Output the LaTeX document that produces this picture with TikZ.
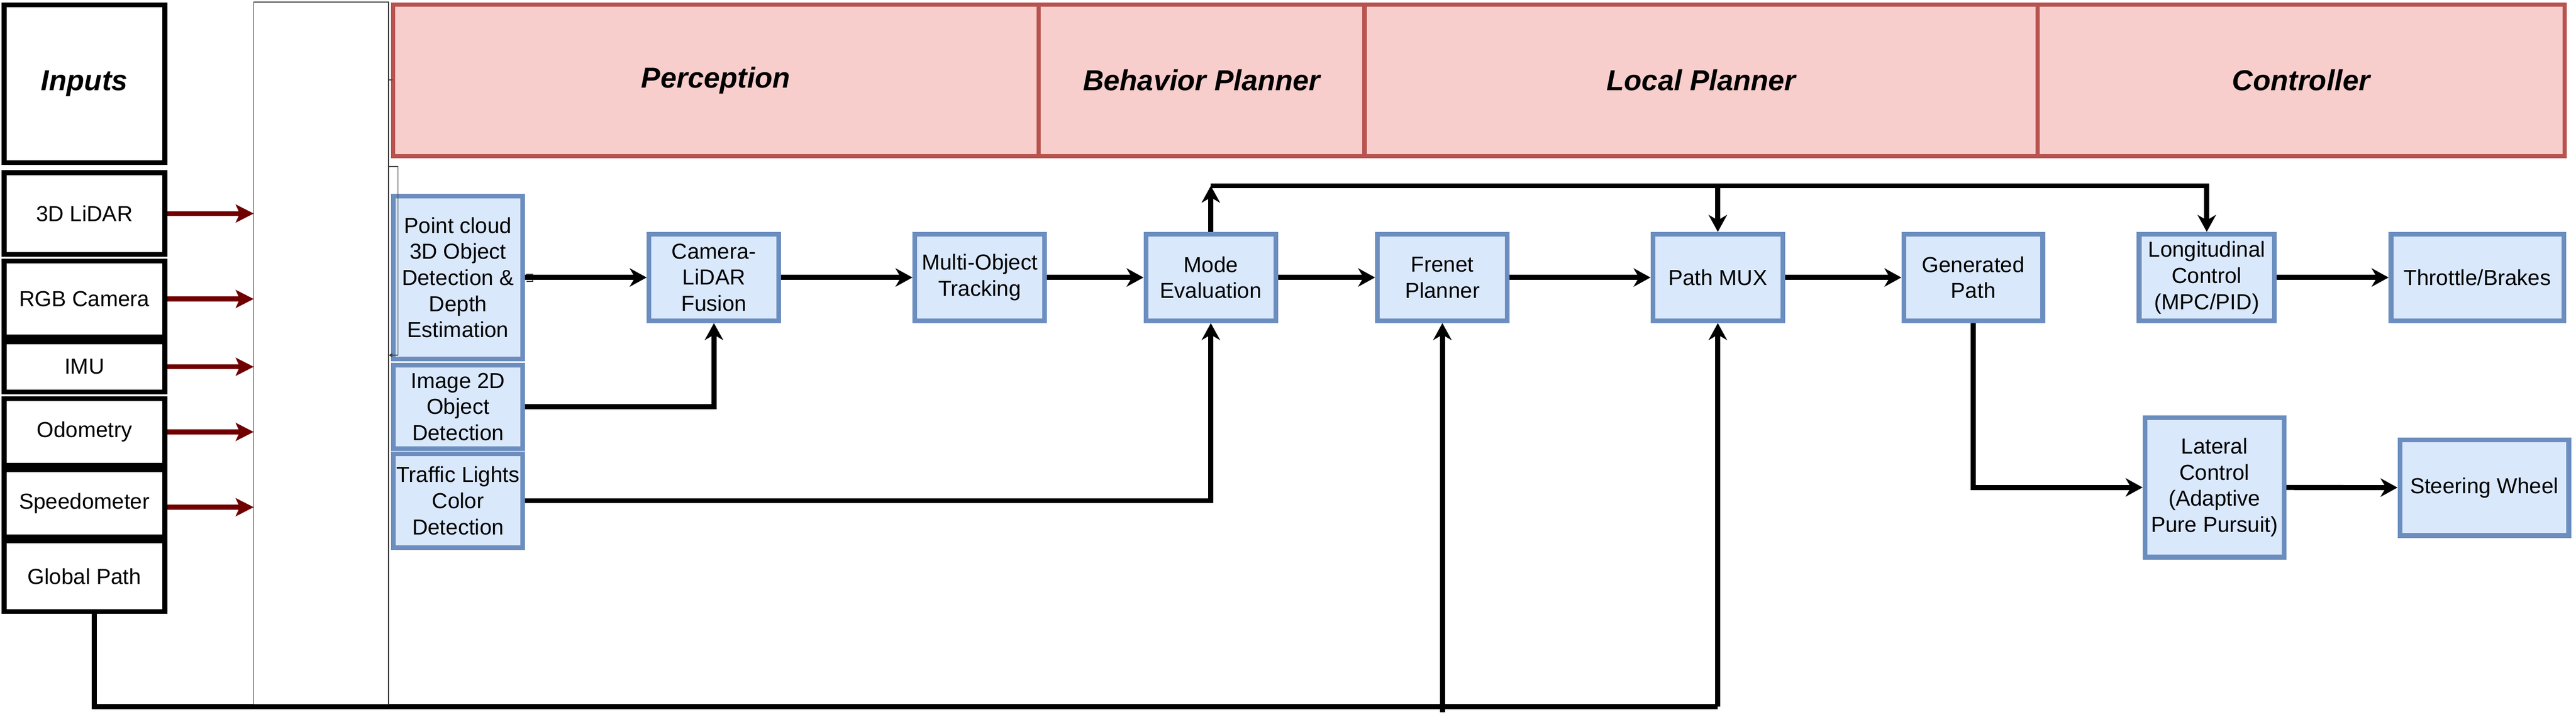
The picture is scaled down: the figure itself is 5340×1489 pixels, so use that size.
\documentclass[tikz,border=0pt]{standalone}
\usepackage{fontspec}
\setmainfont{Liberation Sans}
\usetikzlibrary{arrows.meta,calc}
\definecolor{pinkfill}{HTML}{F8CECC}
\definecolor{pinkdraw}{HTML}{B85450}
\definecolor{bluefill}{HTML}{DAE8FC}
\definecolor{bluedraw}{HTML}{6C8EBF}
\definecolor{darkred}{HTML}{700000}
\begin{document}
\begin{tikzpicture}[x=0.01cm,y=-0.01cm,
  inbox/.style={draw=black, line width=0.1cm, fill=white, minimum width=3.33cm, align=center, inner sep=0pt, font=\fontsize{12.8}{15.4}\selectfont},
  hdr/.style={draw=pinkdraw, fill=pinkfill, line width=0.09cm, minimum height=3.14cm, inner sep=0pt, font=\fontsize{17}{20}\selectfont\bfseries\itshape},
  blk/.style={draw=bluedraw, fill=bluefill, line width=0.1cm, inner sep=0pt, align=center, font=\fontsize{12.8}{15.4}\selectfont},
  conn/.style={draw=black, line width=0.105cm},
  arr/.style={conn, -{Stealth[length=0.35cm,width=0.38cm,inset=0.11cm]}},
  redarr/.style={draw=darkred, line width=0.1cm, -{Stealth[length=0.37cm,width=0.37cm,inset=0.08cm]}},
  ghost/.style={draw=black!75, line width=0.02cm}
]
\useasboundingbox (0,0) rectangle (5340,1489);

% Inputs column
\node[inbox, minimum height=3.27cm, font=\fontsize{17}{20}\selectfont\bfseries\itshape] (inp) at (175,173.5) {Inputs};
\node[inbox, minimum height=1.69cm] (lidar) at (175,442.5) {3D LiDAR};
\node[inbox, minimum height=1.57cm] (rgb) at (175,619.5) {RGB Camera};
\node[inbox, minimum height=1.04cm] (imu) at (175,760) {IMU};
\node[inbox, minimum height=1.38cm] (odo) at (175,895) {Odometry};
\node[inbox, minimum height=1.40cm] (spd) at (175,1043) {Speedometer};
\node[inbox, minimum height=1.46cm] (gp) at (175,1194) {Global Path};

\coordinate (g1) at (195,1464);
\coordinate (f0) at (2990,1476);

% Blue blocks
\node[blk, minimum width=2.68cm, minimum height=3.37cm] (pc) at (949.5,575) {Point cloud\\3D Object\\Detection \&\\Depth\\Estimation};
\node[blk, minimum width=2.68cm, minimum height=1.73cm] (img) at (949.5,843) {Image 2D\\Object\\Detection};
\node[blk, minimum width=2.68cm, minimum height=1.94cm] (tl) at (949.5,1037.5) {Traffic Lights\\Color\\Detection};
\node[blk, minimum width=2.69cm, minimum height=1.79cm] (fus) at (1480,575) {Camera-\\LiDAR\\Fusion};
\node[blk, minimum width=2.69cm, minimum height=1.79cm] (mot) at (2031,575) {Multi-Object\\Tracking};
\node[blk, minimum width=2.69cm, minimum height=1.79cm] (mode) at (2510,575) {Mode\\Evaluation};
\node[blk, minimum width=2.69cm, minimum height=1.79cm] (fr) at (2990,575) {Frenet\\Planner};
\node[blk, minimum width=2.69cm, minimum height=1.79cm] (pm) at (3561,575) {Path MUX};
\node[blk, minimum width=2.88cm, minimum height=1.79cm] (gen) at (4090.5,575) {Generated\\Path};
\node[blk, minimum width=2.80cm, minimum height=1.79cm] (lc) at (4574.5,575) {Longitudinal\\Control\\(MPC/PID)};
\node[blk, minimum width=3.58cm, minimum height=1.79cm] (thr) at (5135.5,575) {Throttle/Brakes};
\node[blk, minimum width=2.88cm, minimum height=2.89cm] (lat) at (4590.5,1010) {Lateral\\Control\\(Adaptive\\Pure Pursuit)};
\node[blk, minimum width=3.50cm, minimum height=1.98cm] (sw) at (5150,1010.5) {Steering Wheel};

\draw[conn] (gp.south -| g1) -- (g1) -- (g1 -| pm.south);

% White panel
\node[draw=black!80, line width=0.02cm, fill=white, minimum width=2.79cm, minimum height=14.54cm, inner sep=0pt, outer sep=0pt] (wr) at (665.5,732) {};

% Pink headers
\node[hdr, minimum width=13.38cm] (per) at (1484,166.5) {Perception};
\node[hdr, minimum width=6.76cm] (beh) at (2491,166.5) {Behavior Planner};
\node[hdr, minimum width=13.95cm] (loc) at (3526.5,166.5) {Local Planner};
\node[hdr, minimum width=10.92cm] (ctl) at (4770,166.5) {Controller};

% faint leftover connectors
\draw[ghost] (wr.east |- 0,166) -- (814,166);
\draw[ghost, -{Straight Barb[length=0.06cm,width=0.06cm]}] (wr.east |- 0,345) -- (825,345) -- (825,736) -- (wr.east |- 0,736);
\draw[ghost] (1090,568) -- (1104,568) -- (1104,583) -- (1092,583);

% Red input arrows
\draw[redarr] (lidar.east) -- (lidar.east -| wr.west);
\draw[redarr] (rgb.east) -- (rgb.east -| wr.west);
\draw[redarr] (imu.east) -- (imu.east -| wr.west);
\draw[redarr] (odo.east) -- (odo.east -| wr.west);
\draw[redarr] ($(spd.east)+(0,8)$) -- ($(spd.east -| wr.west)+(0,8)$);

% Main pipeline
\coordinate (top) at (2510,385);
\draw[arr] (pc.east |- fus.west) -- (fus.west);
\draw[arr] (img.east) -- (img.east -| fus.south) -- (fus.south);
\draw[arr] (fus) -- (mot);
\draw[arr] (mot) -- (mode);
\draw[arr] (mode) -- (fr);
\draw[arr] (fr) -- (pm);
\draw[arr] (pm) -- (gen);
\draw[arr] (lc) -- (thr);
\draw[arr] (tl.east) -- (tl.east -| mode.south) -- (mode.south);
\draw[arr] (mode.north) -- (top);
\draw[arr] (top) -| (lc.north);
\draw[arr] (top -| pm.north) -- (pm.north);
\draw[arr] (gen.south) |- (lat.west);
\draw[arr] (lat) -- (sw);
\draw[arr] (g1 -| pm.south) -- (pm.south);
\draw[arr] (f0) -- (fr.south);
\end{tikzpicture}
\end{document}
